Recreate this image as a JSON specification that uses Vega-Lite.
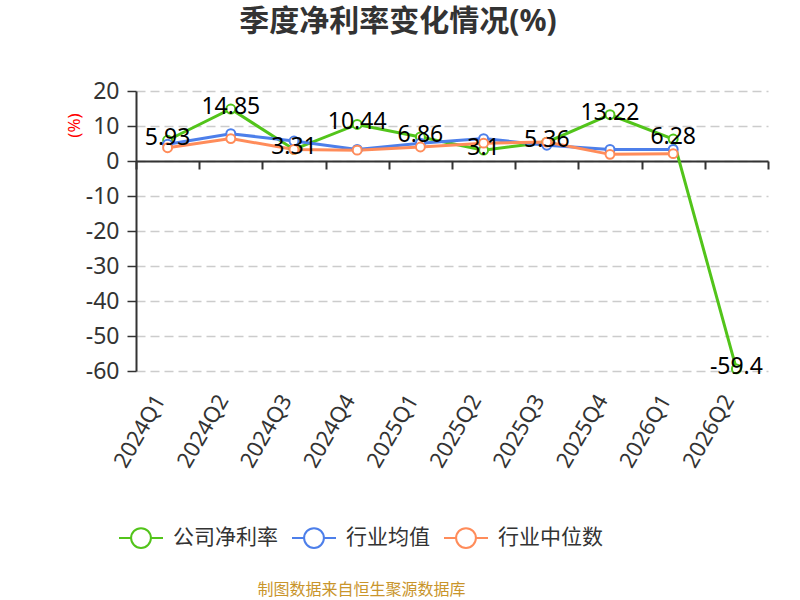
{
  "$schema": "https://vega.github.io/schema/vega-lite/v6.json",
  "width": 632,
  "height": 280,
  "autosize": {"type": "none"},
  "padding": {"left": 136, "top": 91, "right": 32, "bottom": 229},
  "background": "#ffffff",
  "title": {
    "text": "季度净利率变化情况(%)",
    "fontSize": 30,
    "fontWeight": "bold",
    "color": "#333333",
    "anchor": "middle",
    "frame": "group",
    "dx": -54,
    "baseline": "middle",
    "offset": 28
  },
  "data": {
    "values": [
      {"quarter": "2024Q1", "series": "公司净利率", "value": 5.93},
      {"quarter": "2024Q2", "series": "公司净利率", "value": 14.85},
      {"quarter": "2024Q3", "series": "公司净利率", "value": 3.31},
      {"quarter": "2024Q4", "series": "公司净利率", "value": 10.44},
      {"quarter": "2025Q1", "series": "公司净利率", "value": 6.86},
      {"quarter": "2025Q2", "series": "公司净利率", "value": 3.1},
      {"quarter": "2025Q3", "series": "公司净利率", "value": 5.36},
      {"quarter": "2025Q4", "series": "公司净利率", "value": 13.22},
      {"quarter": "2026Q1", "series": "公司净利率", "value": 6.28},
      {"quarter": "2026Q2", "series": "公司净利率", "value": -59.4},
      {"quarter": "2024Q1", "series": "行业均值", "value": 4.8},
      {"quarter": "2024Q2", "series": "行业均值", "value": 7.8},
      {"quarter": "2024Q3", "series": "行业均值", "value": 5.7},
      {"quarter": "2024Q4", "series": "行业均值", "value": 3.3},
      {"quarter": "2025Q1", "series": "行业均值", "value": 5.1},
      {"quarter": "2025Q2", "series": "行业均值", "value": 6.4},
      {"quarter": "2025Q3", "series": "行业均值", "value": 4.5},
      {"quarter": "2025Q4", "series": "行业均值", "value": 3.3},
      {"quarter": "2026Q1", "series": "行业均值", "value": 3.3},
      {"quarter": "2024Q1", "series": "行业中位数", "value": 3.8},
      {"quarter": "2024Q2", "series": "行业中位数", "value": 6.4},
      {"quarter": "2024Q3", "series": "行业中位数", "value": 3.3},
      {"quarter": "2024Q4", "series": "行业中位数", "value": 3.1},
      {"quarter": "2025Q1", "series": "行业中位数", "value": 4.0},
      {"quarter": "2025Q2", "series": "行业中位数", "value": 5.1},
      {"quarter": "2025Q3", "series": "行业中位数", "value": 5.4},
      {"quarter": "2025Q4", "series": "行业中位数", "value": 1.9},
      {"quarter": "2026Q1", "series": "行业中位数", "value": 2.1}
    ]
  },
  "encoding": {
    "x": {
      "field": "quarter",
      "type": "ordinal",
      "scale": {"type": "band", "paddingInner": 0, "paddingOuter": 0},
      "axis": {
        "orient": "bottom",
        "offset": -210,
        "title": "制图数据来自恒生聚源数据库",
        "titleColor": "#c9952b",
        "titleFontSize": 16,
        "titleFontWeight": "normal",
        "titleX": 225,
        "titleY": 428,
        "titleAlign": "center",
        "titleBaseline": "middle",
        "domainColor": "#333333",
        "domainWidth": 2,
        "ticks": true,
        "tickBand": "extent",
        "tickSize": 8,
        "tickColor": "#333333",
        "tickWidth": 2,
        "labelAngle": -60,
        "labelAlign": "right",
        "labelBaseline": "middle",
        "labelFontSize": 22,
        "labelColor": "#333333",
        "labelPadding": 227,
        "labelOffset": -8,
        "grid": false
      }
    },
    "y": {
      "field": "value",
      "type": "quantitative",
      "scale": {"domain": [-60, 20], "nice": false, "zero": false},
      "axis": {
        "values": [-60, -50, -40, -30, -20, -10, 0, 10, 20],
        "labelExpr": "'' + datum.value",
        "title": "(%)",
        "titleColor": "#ff0000",
        "titleFontSize": 17,
        "titleFontWeight": "normal",
        "titleAngle": -90,
        "titleX": -62,
        "titleY": 34,
        "titleAlign": "center",
        "titleBaseline": "middle",
        "domainColor": "#333333",
        "domainWidth": 2,
        "tickColor": "#333333",
        "tickSize": 9,
        "tickWidth": 1.5,
        "labelFontSize": 23,
        "labelColor": "#333333",
        "labelPadding": 8,
        "grid": true,
        "gridColor": "#cccccc",
        "gridDash": [9, 5],
        "gridWidth": 1.5
      }
    },
    "color": {
      "field": "series",
      "type": "nominal",
      "scale": {
        "domain": ["公司净利率", "行业均值", "行业中位数"],
        "range": ["#52c41a", "#4d7fea", "#ff8c5a"]
      },
      "legend": {
        "orient": "none",
        "legendX": -18,
        "legendY": 424,
        "direction": "horizontal",
        "title": null,
        "symbolType": "M-1,0H-0.45M0.45,0H1M-0.45,0A0.45,0.45 0 1,0 0.45,0A0.45,0.45 0 1,0 -0.45,0Z",
        "symbolSize": 1936,
        "symbolStrokeWidth": 2,
        "symbolFillColor": "#ffffff",
        "labelFontSize": 21,
        "labelColor": "#333333",
        "labelOffset": 9,
        "labelLimit": 200,
        "columnPadding": 10
      }
    }
  },
  "layer": [
    {
      "mark": {"type": "line", "strokeWidth": 3}
    },
    {
      "mark": {"type": "point", "filled": false, "fill": "#ffffff", "size": 80, "strokeWidth": 2, "opacity": 1}
    },
    {
      "transform": [{"filter": "datum.series === '公司净利率'"}],
      "mark": {"type": "text", "fontSize": 23, "color": "#000000", "align": "center", "baseline": "middle", "dy": -2},
      "encoding": {
        "text": {"field": "value", "type": "nominal"},
        "color": {"value": "#000000"}
      }
    }
  ],
  "config": {
    "font": "'Noto Sans', 'Noto Sans CJK SC', sans-serif",
    "view": {"stroke": null}
  }
}
